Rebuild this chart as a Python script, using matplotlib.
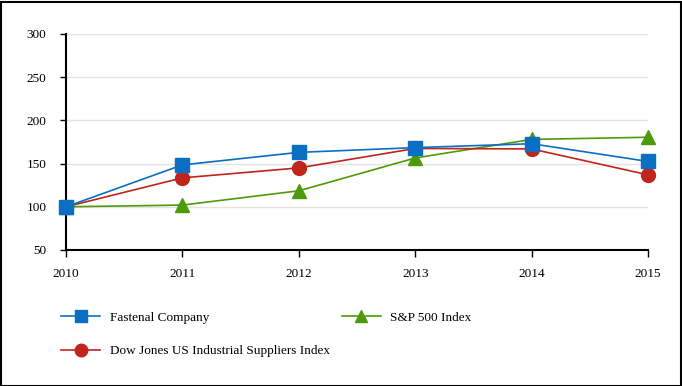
import matplotlib
matplotlib.use("Agg")
import matplotlib.pyplot as plt
from matplotlib.patches import Rectangle

years = [2010, 2011, 2012, 2013, 2014, 2015]
fastenal = [100, 148.5, 163, 168.5, 173, 152.5]
sp500 = [100, 102, 118.5, 156.5, 178, 180.5]
dowjones = [100, 133.5, 145, 167.5, 167, 137]
y_ticks = [50, 100, 150, 200, 250, 300]

plt.rcParams['font.family'] = ['Liberation Serif', 'DejaVu Serif']

fig = plt.figure(figsize=(6.82, 3.86), dpi=100)
ax = fig.add_axes([66/682, 1-250/386, (648-66)/682, (250-34)/386])

blue = '#0a6fc2'
green = '#4f9a0a'
red = '#c0251b'

l3, = ax.plot(years, sp500, color=green, lw=1.2, marker='^', ms=10, label='S&P 500 Index', zorder=3, clip_on=False)
l2, = ax.plot(years, dowjones, color=red, lw=1.2, marker='o', ms=10, label='Dow Jones US Industrial Suppliers Index', zorder=4, clip_on=False)
l1, = ax.plot(years, fastenal, color=blue, lw=1.2, marker='s', ms=10, label='Fastenal Company', zorder=5, clip_on=False)

ax.set_xlim(2010, 2015)
ax.set_ylim(50, 300)
ax.set_xticks(years)
ax.set_yticks(y_ticks)
ax.tick_params(axis='x', length=5, width=1, pad=8, labelsize=9.5, color='black')
ax.tick_params(axis='y', length=4, width=1, pad=10, labelsize=9.5, color='black')
for s in ['top', 'right']:
    ax.spines[s].set_visible(False)
ax.spines['left'].set_linewidth(1.5)
ax.spines['bottom'].set_linewidth(1.5)
ax.grid(axis='y', color='#e3e3e3', lw=1)
ax.set_axisbelow(True)

fig.legend(handles=[l1, l2, l3], labels=[h.get_label() for h in [l1, l2, l3]],
           ncol=2, loc='upper left', bbox_to_anchor=(49/682, 1-300/386),
           frameon=False, fontsize=9.5, handlelength=3.0, handletextpad=0.7,
           columnspacing=0.9, labelspacing=1.6, markerscale=0.9)

fig.patches.append(Rectangle((0.5/682, 0.5/386), 1-2/682, 1-2/386, transform=fig.transFigure,
                             fill=False, edgecolor='black', lw=1.5))

fig.savefig('out.png', dpi=100)
